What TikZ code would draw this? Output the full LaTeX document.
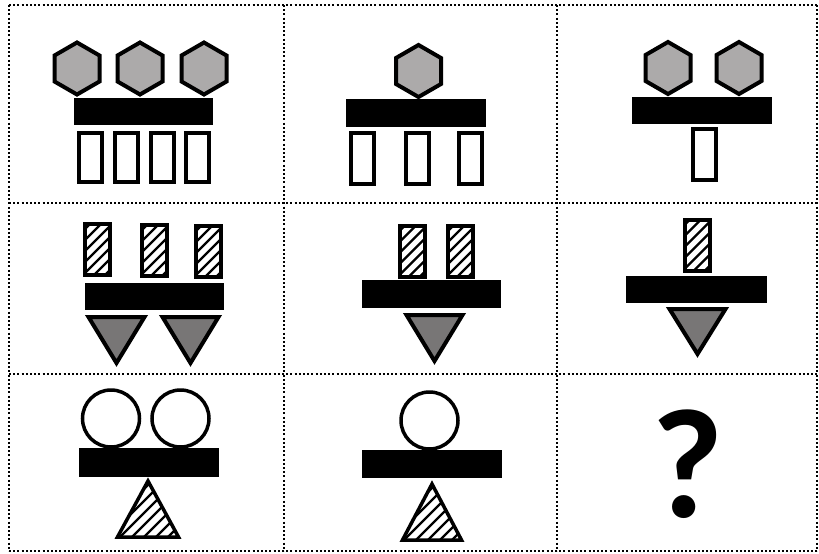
\documentclass[tikz,border=0pt]{standalone}
\usepackage{fontspec}
\newfontfamily\qfont{Carlito}
\definecolor{hexgray}{RGB}{172,170,170}
\definecolor{trigray}{RGB}{120,118,118}
\newcommand\hexa[2]{\draw[hexst] (#1,#2-26) -- ++(22.5,13) -- ++(0,26) -- ++(-22.5,13) -- ++(-22.5,-13) -- ++(0,-26) -- cycle;}
\newcommand\blackbar[4]{\fill[barst] (#1,#2) rectangle (#3,#4);}
\newcommand\wbox[3]{\draw[boxst] (#1-11.5,#2) rectangle (#1+11.5,#3);}
\newcommand\hatchbox[3]{%
  \begin{scope}
    \clip (#1-12.5,#2) rectangle (#1+12.5,#3);
    \foreach \k in {-5,...,5} \draw[hatch] (#1+\k*11-40,#2/2+#3/2+40) -- ++(80,-80);
  \end{scope}
  \draw[hbox] (#1-12.5,#2) rectangle (#1+12.5,#3);}
\newcommand\hatchtri[4]{%
  \begin{scope}
    \clip (#1,#2) -- (#1+#4,#3) -- (#1-#4,#3) -- cycle;
    \foreach \k in {-7,...,7} \draw[hatch] (#1+\k*12-50,#2/2+#3/2+50) -- ++(100,-100);
  \end{scope}
  \draw[htri] (#1,#2) -- (#1+#4,#3) -- (#1-#4,#3) -- cycle;}
\newcommand\dtri[4]{\draw[tri] (#1-#4,#2) -- (#1+#4,#2) -- (#1,#3) -- cycle;}
\begin{document}
\begin{tikzpicture}[x=1pt,y=-1pt,
  grid/.style={line width=2pt, dash pattern=on 2pt off 2.2pt},
  hexst/.style={line width=4pt, fill=hexgray, line join=miter},
  barst/.style={fill=black},
  boxst/.style={line width=4pt, fill=white},
  hbox/.style={line width=4pt},
  hatch/.style={line width=2.4pt},
  tri/.style={line width=4pt, fill=trigray, line join=miter},
  htri/.style={line width=3.5pt, line join=miter},
  ring/.style={line width=3.5pt, fill=white}]
\useasboundingbox (0,0) rectangle (819,554);
\fill[white] (0,0) rectangle (819,554);
% grid
\foreach \x in {9,284,557,817} \draw[grid] (\x,5) -- (\x,551);
\foreach \y in {5,203,374,551} \draw[grid] (9,\y) -- (817,\y);
% row 1
\hexa{77}{68.5} \hexa{140}{68.5} \hexa{204}{68.5}
\blackbar{74}{98}{213}{125}
\wbox{90.5}{133}{182} \wbox{126}{133}{182} \wbox{162}{133}{182} \wbox{197.5}{133}{182}
\hexa{418.5}{71}
\blackbar{346}{99}{486}{127}
\wbox{362.5}{133}{184} \wbox{417.5}{133}{184} \wbox{470}{133}{184}
\hexa{668}{68} \hexa{739}{68}
\blackbar{632}{97}{772}{124}
\wbox{704}{129}{180}
% row 2
\hatchbox{97.5}{224}{275} \hatchbox{154.5}{225}{276} \hatchbox{208.5}{226}{277}
\blackbar{85}{283}{224}{310}
\dtri{116.5}{317}{363}{28} \dtri{190.5}{317}{363}{28}
\hatchbox{412}{226}{277} \hatchbox{460.5}{226}{277}
\blackbar{362}{280}{501}{308}
\dtri{434.5}{315}{361}{28}
\hatchbox{697}{220}{271}
\blackbar{626}{276}{767}{303}
\dtri{697.5}{309}{354}{28}
% row 3
\draw[ring] (111,418.5) circle[radius=28.5];
\draw[ring] (180.5,418.5) circle[radius=28.5];
\blackbar{79}{448}{219}{477}
\hatchtri{148}{481}{537}{30.5}
\draw[ring] (429.5,420.5) circle[radius=28.5];
\blackbar{362}{450}{502}{478}
\hatchtri{432}{484}{540}{29.5}
\node[anchor=base, inner sep=0pt, font=\qfont\bfseries\fontsize{156}{156}\selectfont] (q) at (688,517) {?};
\end{tikzpicture}
\end{document}
